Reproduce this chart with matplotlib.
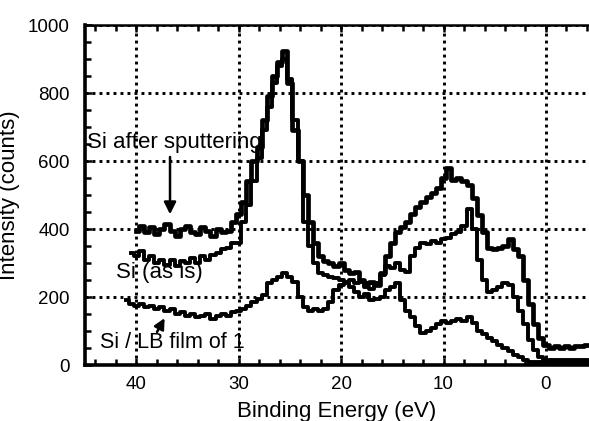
import numpy as np
import matplotlib
matplotlib.use("Agg")
import matplotlib.pyplot as plt
from matplotlib.ticker import MultipleLocator

plt.rcParams['font.family'] = ['Liberation Sans', 'DejaVu Sans']

# binding energy grids (eV)
energy_sputter = np.arange(40.0, -4.01, -0.5)
energy_asis = np.arange(40.5, -4.01, -0.5)
energy_lb = np.arange(41.0, -4.01, -0.5)

# Si after sputtering
counts_sputter = [
    395, 410, 390, 405, 385, 400, 415, 395, 380, 400,
    410, 390, 385, 405, 395, 380, 400, 390, 395, 420,
    445, 480, 540, 600, 640, 720, 790, 850, 890, 925,
    830, 690, 600, 500, 420, 360, 320, 305, 300, 290,
    300, 280, 270, 275, 250, 240, 245, 235, 270, 320,
    360, 390, 405, 420, 445, 465, 480, 495, 505, 520,
    550, 580, 545, 550, 540, 530, 490, 440, 390, 345,
    340, 345, 350, 370, 340, 320, 250, 180, 120, 80,
    60, 50, 55, 50, 55, 50, 55, 55, 60,
]

# Si (as is)
counts_asis = [
    330, 320, 335, 310, 320, 300, 310, 295, 310, 290,
    305, 300, 315, 300, 320, 310, 325, 330, 340, 345,
    360, 360, 420, 470, 540, 610, 690, 760, 830, 880,
    900, 840, 720, 600, 420, 350, 300, 270, 265, 260,
    255, 250, 245, 250, 240, 245, 230, 225, 240, 265,
    290, 285, 300, 280, 275, 320, 345, 360, 355, 365,
    360, 370, 375, 385, 390, 410, 460, 400, 310, 250,
    215, 220, 230, 240, 235, 200, 160, 120, 75, 45,
    25, 15, 15, 15, 15, 15, 15, 15, 15, 15,
]

# Si / LB film of 1
counts_lb = [
    190, 180, 175, 180, 170, 175, 165, 170, 160, 165,
    150, 155, 145, 150, 140, 145, 150, 135, 145, 150,
    145, 155, 160, 165, 175, 185, 195, 205, 240, 250,
    260, 270, 260, 245, 200, 170, 160, 165, 160, 165,
    185, 220, 235, 240, 230, 215, 200, 210, 190, 195,
    200, 220, 230, 240, 190, 160, 140, 115, 95, 100,
    110, 120, 130, 125, 130, 135, 130, 140, 125, 100,
    90, 80, 70, 60, 50, 40, 30, 25, 15, 10,
    10, 10, 10, 10, 10, 10, 10, 10, 10, 10, 10,
]

fig = plt.figure(figsize=(5.89, 4.21), dpi=100)
ax = fig.add_axes([85 / 589, 56 / 421, 1 - 85 / 589, 340 / 421])

ax.plot(energy_sputter, counts_sputter, color='black', lw=3.4, drawstyle='steps-mid')
ax.plot(energy_asis, counts_asis, color='black', lw=2.8, drawstyle='steps-mid')
ax.plot(energy_lb, counts_lb, color='black', lw=2.8, drawstyle='steps-mid')

ax.set_xlim(45, -4.2)
ax.set_ylim(0, 1000)
ax.set_xticks([40, 30, 20, 10, 0])
ax.set_yticks([0, 200, 400, 600, 800, 1000])
ax.xaxis.set_minor_locator(MultipleLocator(2))
ax.yaxis.set_minor_locator(MultipleLocator(50))
ax.tick_params(axis='both', which='both', direction='in', top=True, right=False,
               width=1.8, labelsize=13.5)
ax.tick_params(axis='both', which='major', length=5)
ax.tick_params(axis='both', which='minor', length=4.5)
ax.tick_params(axis='x', pad=8)
ax.tick_params(axis='y', pad=11)

ax.grid(True, which='major', color='black', linestyle=(0, (1.0, 1.4)), lw=2.1)

ax.spines['right'].set_visible(False)
ax.spines['left'].set_linewidth(2.6)
ax.spines['bottom'].set_linewidth(2.6)
ax.spines['top'].set_linewidth(1.8)

ax.set_xlabel('Binding Energy (eV)', fontsize=16, labelpad=6)
ax.set_ylabel('Intensity (counts)', fontsize=16, labelpad=6)

ax.text(44.8, 655, 'Si after sputtering', fontsize=16, va='center', ha='left')
ax.annotate('', xy=(36.7, 435), xytext=(36.7, 620),
            arrowprops=dict(arrowstyle='-|>', color='black', lw=1.8, mutation_scale=18))
ax.text(42.0, 272, 'Si (as is)', fontsize=16, va='center', ha='left')
ax.text(43.5, 67, 'Si / LB film of 1', fontsize=15.5, va='center', ha='left')
ax.annotate('', xy=(37.1, 145), xytext=(38.1, 90),
            arrowprops=dict(arrowstyle='-|>', color='black', lw=1.8, mutation_scale=16))

fig.savefig('out.png', dpi=100)
